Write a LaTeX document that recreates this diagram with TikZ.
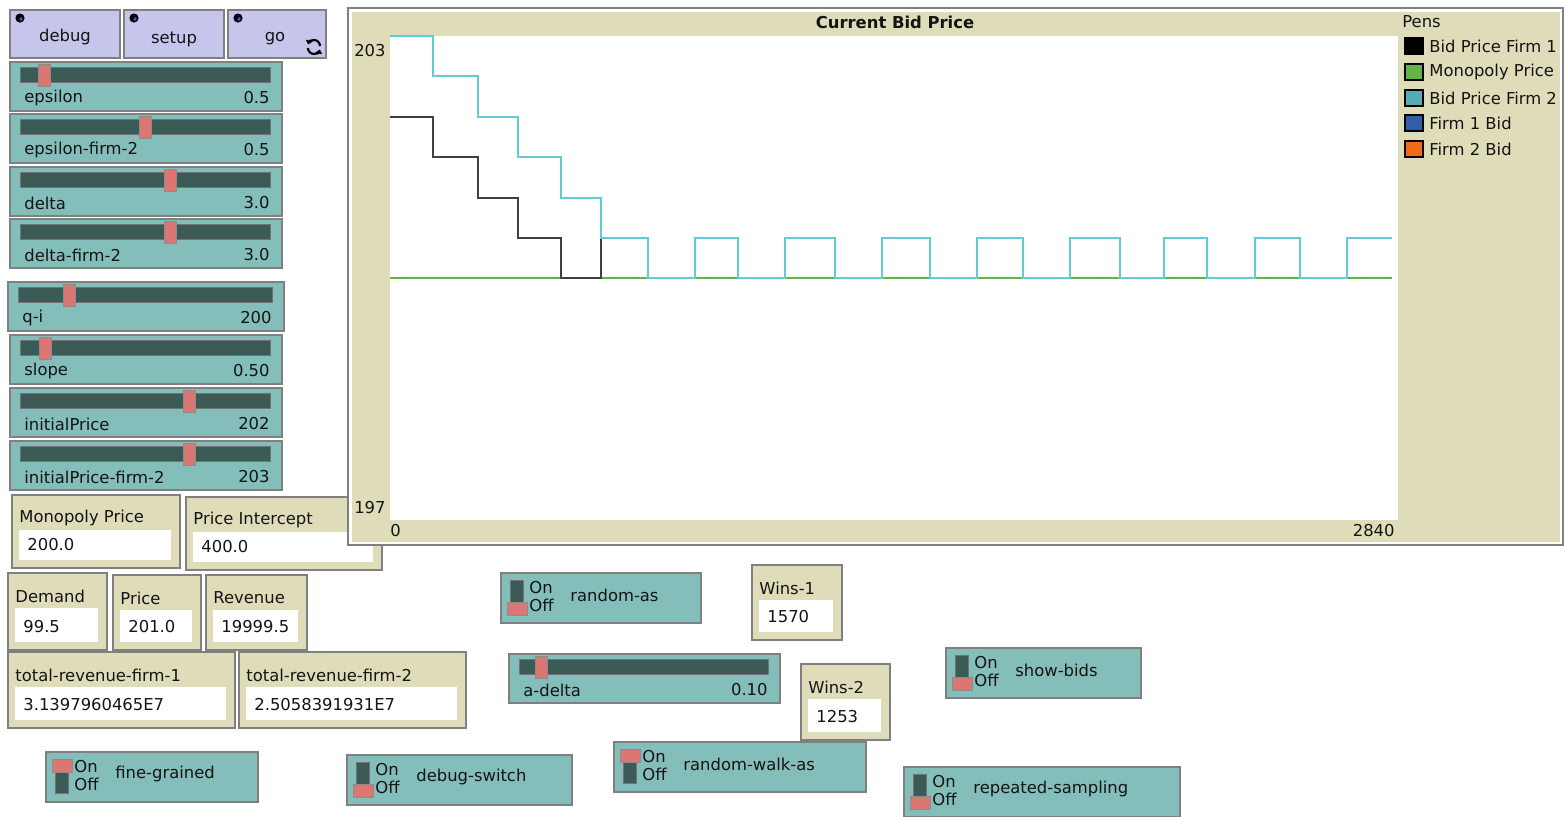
\documentclass[tikz,border=0pt]{standalone}
\usepackage{fontspec}
\setmainfont{DejaVu Sans}
\usetikzlibrary{arrows.meta}

\definecolor{btnblue}{RGB}{198,198,236}
\definecolor{netteal}{RGB}{132,190,186}
\definecolor{trackdark}{RGB}{60,90,86}
\definecolor{knobred}{RGB}{219,118,114}
\definecolor{monkhaki}{RGB}{223,221,185}
\definecolor{pencyan}{RGB}{100,204,208}
\definecolor{pengreen}{RGB}{100,180,70}
\definecolor{penblue}{RGB}{52,93,169}
\definecolor{penorange}{RGB}{241,106,21}

\begin{document}
\begin{tikzpicture}[x=0.5pt,y=-0.5pt,
  every node/.style={font=\fontsize{8.2}{9.8}\selectfont, inner sep=0pt, text=black!92},
  widget/.style={draw=black!50, line width=0.8pt},
  button/.style={widget, fill=btnblue},
  slidebox/.style={widget, fill=netteal},
  monbox/.style={widget, fill=monkhaki},
  valbox/.style={fill=white},
  track/.style={fill=trackdark, draw=black!55, line width=0.4pt},
  knob/.style={fill=knobred, draw=black!45, line width=0.4pt},
  pen/.style={line width=0.75pt}]

\useasboundingbox (0,0) rectangle (1564,816);

% buttons
\foreach \xa/\xb/\lx/\ly/\lab in {10/120/65/37/debug, 124/224/174/39/setup, 228/326/275/39/go} {
  \draw[button] (\xa,10) rectangle (\xb,58);
  \fill[black] (\xa+10,18) circle (2.3pt);
  \fill[blue!70] (\xa+11,19) circle (0.9pt);
  \node (btn-\lab) at (\lx,\ly) {\lab};
}
\coordinate (goicon) at (314,47);
\draw[line width=1.1pt, -{Triangle[length=2pt,width=3.4pt]}] ([shift={(3pt,0.5pt)}]goicon) arc[start angle=0, end angle=165, radius=3pt];
\draw[line width=1.1pt, -{Triangle[length=2pt,width=3.4pt]}] ([shift={(-3pt,-0.5pt)}]goicon) arc[start angle=180, end angle=345, radius=3pt];

% sliders
\foreach \xa/\ya/\xb/\kx/\lab/\val in {10/62/282/44/epsilon/0.5, 10/114/282/145/epsilon-firm-2/0.5,
    10/167/282/170/delta/3.0, 10/219/282/170/delta-firm-2/3.0, 8/282/284/69/q-i/200,
    10/335/282/45/slope/0.50, 10/388/282/189/initialPrice/202,
    10/441/282/189/initialPrice-firm-2/203, 509/654/780/541/a-delta/0.10} {
  \draw[slidebox] (\xa,\ya) rectangle (\xb,\ya+49);
  \draw[track] (\xa+10,\ya+5) rectangle (\xb-12,\ya+20);
  \draw[knob] (\kx-6,\ya+2) rectangle (\kx+6,\ya+24);
  \node[anchor=west] (\lab-name) at (\xa+14,\ya+36) {\lab};
  \node[anchor=east] (\lab-value) at (\xb-12,\ya+36) {\val};
}

% monitors
\foreach \xa/\ya/\xb/\yb/\lab/\val in {12/495/180/568/Monopoly Price/200.0,
    186/497/382/570/Price Intercept/400.0, 8/573/107/650/Demand/99.5,
    113/575/201/650/Price/201.0, 206/575/307/650/Revenue/19999.5,
    8/652/235/728/total-revenue-firm-1/3.1397960465E7,
    239/652/466/728/total-revenue-firm-2/2.5058391931E7,
    752/565/842/640/Wins-1/1570, 801/664/890/740/Wins-2/1253} {
  \draw[monbox] (\xa,\ya) rectangle (\xb,\yb);
  \fill[valbox] (\xa+7,\ya+35) rectangle (\xb-9,\yb-8);
  \node[anchor=west] (\lab-mon) at (\xa+7,\ya+23) {\lab};
  \node[anchor=west] (\lab-val) at (\xa+15,\yb-23) {\val};
}

% switches
\foreach \xa/\ya/\xb/\ky/\lab in {46/752/258/7/fine-grained, 347/755/572/29/debug-switch,
    501/573/701/29/random-as, 614/742/866/7/random-walk-as,
    946/648/1141/29/show-bids, 904/767/1180/29/repeated-sampling} {
  \draw[slidebox] (\xa,\ya) rectangle (\xb,\ya+50);
  \draw[track] (\xa+9,\ya+7) rectangle (\xa+22,\ya+41);
  \draw[knob] (\xa+6,\ya+\ky) rectangle (\xa+26,\ya+\ky+13);
  \node[anchor=west] (\lab-on) at (\xa+28,\ya+15) {On};
  \node[anchor=west] (\lab-off) at (\xa+28,\ya+32) {Off};
  \node[anchor=west] (\lab-sw) at (\xa+69,\ya+22) {\lab};
}

% plot
\draw[widget, fill=white] (348,8) rectangle (1563,545);
\fill[monkhaki] (352,12) rectangle (1560,542);
\fill[white] (390,36) rectangle (1398,520);
\node[font=\fontsize{8.2}{9.8}\selectfont\bfseries] (plot-title) at (895,22) {Current Bid Price};
\node[anchor=east] (ymax) at (386,51) {203};
\node[anchor=east] (ymin) at (386,508) {197};
\node[anchor=west] (xmin) at (390,531) {0};
\node[anchor=east] (xmax) at (1395,531) {2840};

\draw[pen, pengreen] (390,278) -- (1392,278);
\draw[pen, black!75] (390,117) -| (433,157) -| (478,198) -| (518,238) -| (561,278) -| (601,238);
\draw[pen, pencyan] (390,36) -| (433,76) -| (478,117) -| (518,157) -| (561,198) -| (601,238)
  -| (648,278) -| (695,238) -| (738,278) -| (785,238) -| (835,278) -| (882,238) -| (930,278)
  -| (977,238) -| (1023,278) -| (1070,238) -| (1120,278) -| (1164,238) -| (1207,278)
  -| (1255,238) -| (1300,278) -| (1347,238) -- (1392,238);

% legend
\node[anchor=west] (pens) at (1402,22) {Pens};
\foreach \y/\c/\lab in {46/black/Bid Price Firm 1, 72/pengreen/Monopoly Price,
    98/pencyan!85!black/Bid Price Firm 2, 123/penblue/Firm 1 Bid, 149/penorange/Firm 2 Bid} {
  \draw[fill=\c, line width=0.6pt] (1405,\y-8) rectangle (1423,\y+8);
  \node[anchor=west] (pen-\y) at (1429,\y) {\lab};
}
\end{tikzpicture}
\end{document}
